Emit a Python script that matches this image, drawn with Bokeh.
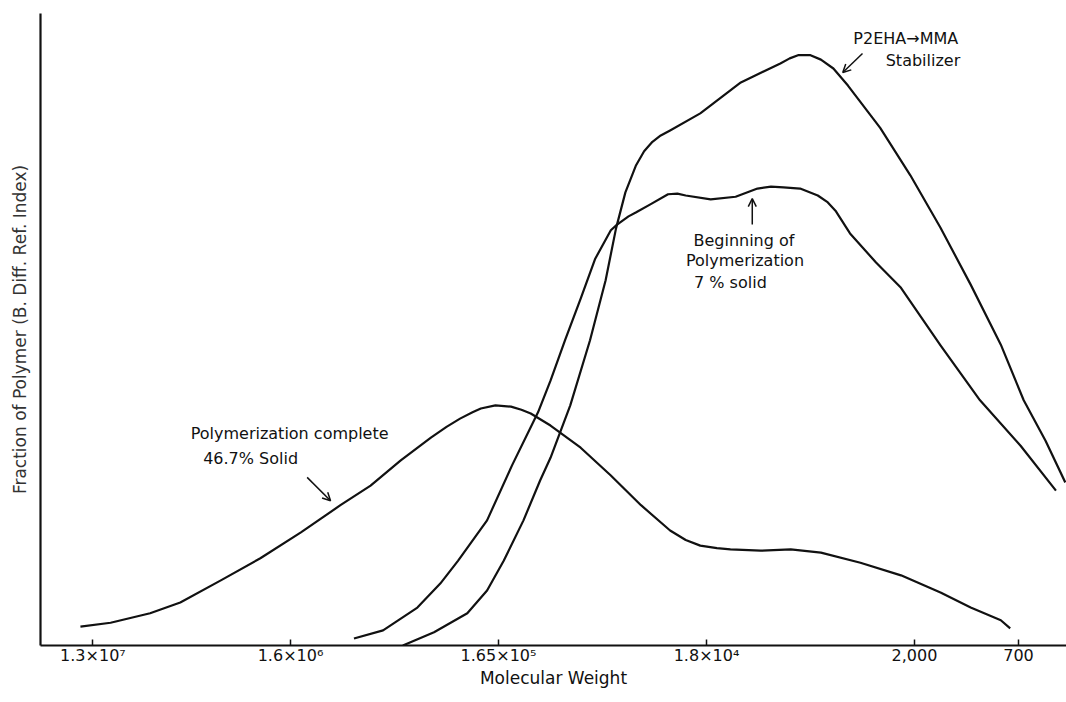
from math import pi
from bokeh.plotting import figure
from bokeh.models import Range1d, FixedTicker, Label, Arrow, OpenHead
from bokeh.embed import file_html
from bokeh.resources import INLINE

# ---- data (x = elution count, y = detector response, arbitrary units) ----
tick_counts = [20.1, 22.0, 24.0, 26.0, 28.0, 29.0]
tick_labels = ["1.3×10⁷", "1.6×10⁶", "1.65×10⁵", "1.8×10⁴", "2,000", "700"]

complete_x = [19.98, 20.27, 20.65, 20.94, 21.33, 21.71, 22.10, 22.48, 22.77, 23.06,
              23.35, 23.50, 23.63, 23.75, 23.83, 23.97, 24.12, 24.22, 24.31, 24.50,
              24.79, 25.08, 25.37, 25.65, 25.80, 25.94, 26.10, 26.23, 26.52, 26.81,
              27.10, 27.48, 27.87, 28.25, 28.54, 28.83, 28.92]
complete_y = [3.0, 3.6, 5.1, 6.8, 10.3, 13.8, 17.9, 22.2, 25.3, 29.3,
              32.9, 34.6, 35.9, 36.9, 37.5, 38.0, 37.8, 37.3, 36.7, 34.8,
              31.3, 26.9, 22.2, 18.2, 16.7, 15.8, 15.4, 15.2, 15.0, 15.2,
              14.7, 13.1, 11.1, 8.4, 6.0, 4.0, 2.7]

begin_x = [22.61, 22.89, 23.22, 23.44, 23.61, 23.89, 24.13, 24.38, 24.50, 24.64,
           24.79, 24.93, 25.08, 25.14, 25.19, 25.25, 25.32, 25.46, 25.63, 25.72,
           25.80, 26.04, 26.28, 26.49, 26.62, 26.74, 26.90, 27.07, 27.16, 27.24,
           27.38, 27.63, 27.87, 28.25, 28.63, 29.02, 29.36]
begin_y = [1.1, 2.4, 6.0, 9.8, 13.4, 19.8, 28.5, 36.9, 41.9, 48.3,
           54.9, 61.2, 65.7, 66.6, 67.2, 67.9, 68.5, 69.8, 71.4, 71.5,
           71.2, 70.6, 71.0, 72.3, 72.6, 72.5, 72.3, 71.2, 70.2, 68.8,
           65.2, 60.6, 56.6, 47.5, 38.8, 31.6, 24.5]

p2eha_x = [23.08, 23.38, 23.70, 23.89, 24.05, 24.24, 24.40, 24.50, 24.69, 24.88,
           25.03, 25.13, 25.22, 25.32, 25.40, 25.48, 25.56, 25.65, 25.94, 26.33,
           26.71, 26.80, 26.88, 27.00, 27.10, 27.22, 27.36, 27.67, 27.96, 28.25,
           28.54, 28.83, 29.05, 29.26, 29.45]
p2eha_y = [0.0, 2.1, 5.1, 8.7, 13.4, 19.8, 26.1, 29.7, 38.0, 48.3,
           57.8, 66.0, 71.7, 75.9, 78.2, 79.7, 80.7, 81.5, 84.2, 89.1,
           92.1, 92.9, 93.4, 93.4, 92.7, 91.3, 88.6, 81.9, 74.4, 66.1,
           57.1, 47.6, 38.8, 32.4, 25.8]

FONT = "DejaVu Sans"
INK = "#111111"

p = figure(width=1066, height=702, output_backend="svg", toolbar_location=None,
           x_range=Range1d(19.596, 29.4615), y_range=Range1d(0, 100),
           min_border_left=40, min_border_right=0, min_border_top=13, min_border_bottom=57)
p.outline_line_color = None
p.grid.visible = False
p.background_fill_color = "white"
p.border_fill_color = "white"

for xs, ys in [(complete_x, complete_y), (begin_x, begin_y), (p2eha_x, p2eha_y)]:
    p.line(xs, ys, line_color=INK, line_width=2.2, line_join="round")

# x axis
xa = p.xaxis[0]
xa.ticker = FixedTicker(ticks=tick_counts, minor_ticks=[])
xa.major_label_overrides = {t: l for t, l in zip(tick_counts, tick_labels)}
xa.major_tick_in = 6
xa.major_tick_out = 0
xa.minor_tick_line_color = None
xa.axis_line_width = 2.2
xa.axis_line_color = INK
xa.major_tick_line_color = INK
xa.major_tick_line_width = 1.5
xa.major_label_text_font = FONT
xa.major_label_text_font_size = "16px"
xa.major_label_text_color = INK
xa.major_label_standoff = 0
xa.axis_label = "Molecular Weight"
xa.axis_label_text_font = FONT
xa.axis_label_text_font_size = "17px"
xa.axis_label_text_font_style = "normal"
xa.axis_label_text_color = INK
xa.axis_label_standoff = 0

# y axis (no ticks)
ya = p.yaxis[0]
ya.ticker = FixedTicker(ticks=[])
ya.major_tick_in = 0
ya.major_tick_out = 0
ya.minor_tick_line_color = None
ya.axis_line_width = 2.2
ya.axis_line_color = INK
ya.major_label_text_font_size = "0px"
ya.major_label_standoff = 0
ya.axis_label = "Fraction of Polymer (B. Diff. Ref. Index)"
ya.axis_label_text_font = FONT
ya.axis_label_text_font_size = "17px"
ya.axis_label_text_font_style = "normal"
ya.axis_label_text_color = "#333333"
ya.axis_label_standoff = 11

def note(x, y, t, align="center"):
    p.add_layout(Label(x=x, y=y, text=t, text_align=align, text_baseline="middle",
                       text_font=FONT, text_font_size="16px", text_color=INK))

note(28.42, 96.0, "P2EHA→MMA", "right")
note(28.44, 92.6, "Stabilizer", "right")
note(26.36, 64.1, "Beginning of")
note(26.37, 60.9, "Polymerization")
note(26.23, 57.4, "7 % solid")
note(21.04, 33.5, "Polymerization complete", "left")
note(21.16, 29.6, "46.7% Solid", "left")

def arrow(x0, y0, x1, y1):
    p.add_layout(Arrow(x_start=x0, y_start=y0, x_end=x1, y_end=y1,
                       line_color=INK, line_width=1.5,
                       end=OpenHead(size=8, line_color=INK, line_width=1.5)))

arrow(27.50, 93.67, 27.31, 90.66)
arrow(26.44, 66.6, 26.44, 70.7)
arrow(22.16, 26.6, 22.385, 22.9)

open("out.html", "w").write(file_html(p, INLINE))
